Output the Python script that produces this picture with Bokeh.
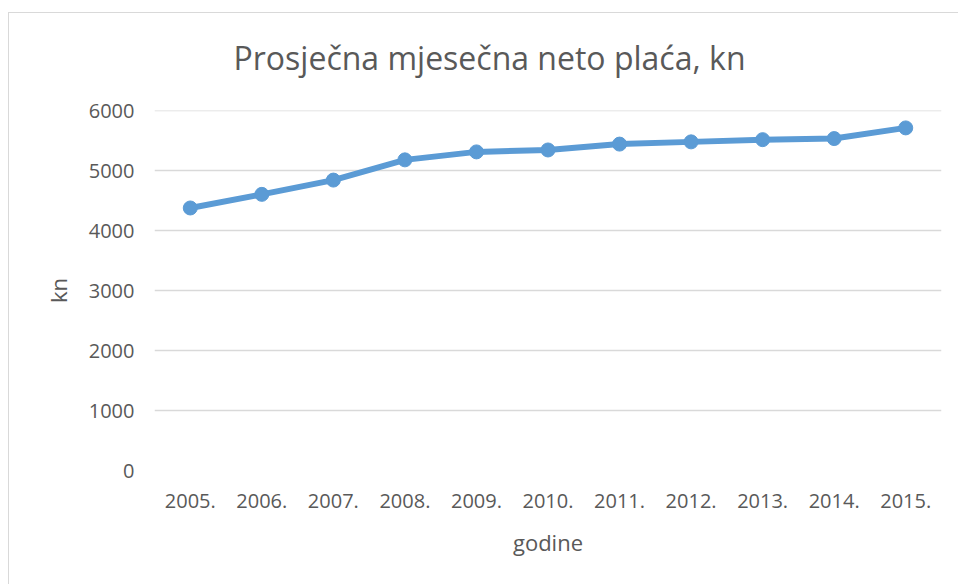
from bokeh.plotting import figure
from bokeh.models import FactorRange, Range1d, SingleIntervalTicker
from bokeh.embed import file_html
from bokeh.resources import INLINE

years = ["2005.", "2006.", "2007.", "2008.", "2009.", "2010.", "2011.", "2012.", "2013.", "2014.", "2015."]
salary = [4376, 4603, 4841, 5178, 5311, 5343, 5441, 5478, 5515, 5533, 5711]

FONT = "Open Sans"
TXT = "#595959"

p = figure(width=958, height=584, output_backend="svg", toolbar_location=None,
           x_range=FactorRange(*years, range_padding=0), y_range=Range1d(0, 6001),
           min_border_left=154, min_border_right=17, min_border_top=110, min_border_bottom=114,
           title="Prosječna mjesečna neto plaća, kn")
p.styles = {
    "background-color": "white",
    "background-image": "linear-gradient(#D9D9D9, #D9D9D9), linear-gradient(#D9D9D9, #D9D9D9)",
    "background-position": "8px 12px, 8px 12px",
    "background-size": "1px 700px, 1200px 1px",
    "background-repeat": "no-repeat",
}
p.outline_line_color = None
p.background_fill_color = "white"
p.border_fill_alpha = 0

p.title.align = "left"
p.title.offset = 79
p.title.standoff = 64
p.title.text_font = FONT
p.title.text_font_size = "32px"
p.title.text_font_style = "normal"
p.title.text_color = TXT

p.xgrid.grid_line_color = None
p.ygrid.grid_line_color = "#D9D9D9"
p.ygrid.grid_line_width = 1.5
p.yaxis.ticker = SingleIntervalTicker(interval=1000)

for ax in (p.xaxis, p.yaxis):
    ax.axis_line_color = None
    ax.major_tick_line_color = None
    ax.minor_tick_line_color = None
    ax.major_label_text_font = FONT
    ax.major_label_text_color = TXT
    ax.major_label_text_font_size = "20px"
    ax.axis_label_text_font = FONT
    ax.axis_label_text_color = TXT
    ax.axis_label_text_font_size = "22px"
    ax.axis_label_text_font_style = "normal"

p.yaxis.major_label_standoff = 14
p.xaxis.major_label_standoff = 17
p.xaxis.axis_label = "godine"
p.yaxis.axis_label = "kn"
p.xaxis.axis_label_standoff = 16
p.yaxis.axis_label_standoff = 13

p.line(years, salary, line_color="#5B9BD5", line_width=6)
p.scatter(years, salary, size=14, fill_color="#5B9BD5", line_color="#5B9BD5")

open("out.html", "w").write(file_html(p, INLINE))
